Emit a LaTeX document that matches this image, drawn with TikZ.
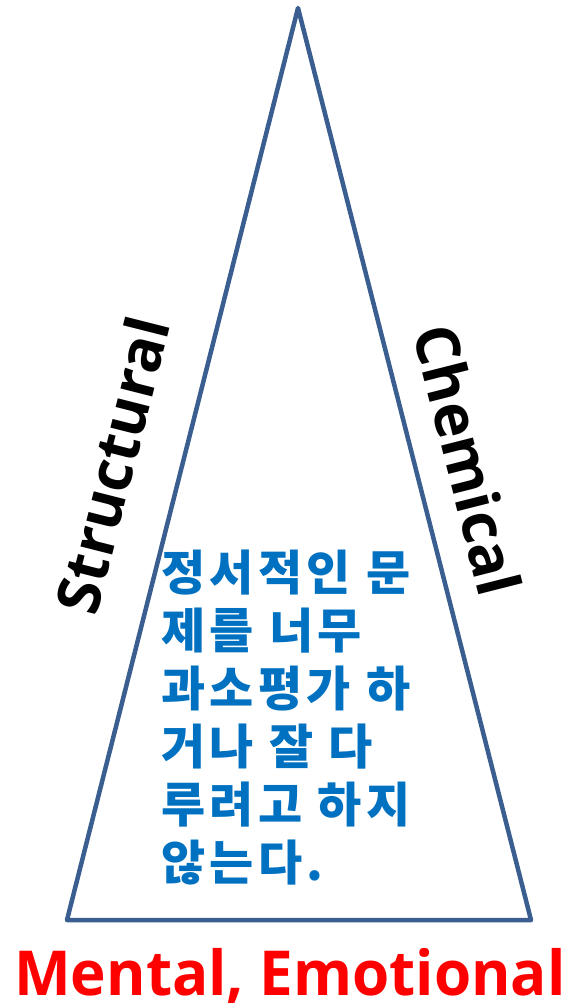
\documentclass[tikz,border=0pt]{standalone}
\usepackage{fontspec}
\usepackage{xcolor}
\setmainfont{Open Sans}
\newfontfamily\kor{Noto Sans CJK KR}[LetterSpace=9]
\definecolor{sideblue}{HTML}{3A5E8F}
\definecolor{noteblue}{HTML}{0070C0}
\definecolor{mentalred}{HTML}{FF0000}

\begin{document}
\begin{tikzpicture}[x=1pt,y=-1pt]
            \tikzset{side/.style = {draw=sideblue, line width=4.5pt, line join=round}}
            \tikzset{sidelabel/.style = {inner sep=0pt, font=\bfseries\fontsize{60}{60}\selectfont}}
            \tikzset{note/.style = {inner sep=0pt, anchor=north west, align=left, text=noteblue, font=\kor\bfseries\fontsize{48}{58}\selectfont}}
            \tikzset{bottomlabel/.style = {inner sep=0pt, anchor=base, text=mentalred, xscale=0.97, transform shape, font=\bfseries\fontsize{62}{62}\selectfont}}
            \useasboundingbox (0,0) rectangle (571,1003);
            
            % vertices
            \coordinate (apex) at (298,8);
            \coordinate (left) at (67,920);
            \coordinate (right) at (531,920);
            
            % edges
            \draw[side] (apex) -- (left) -- (right) -- cycle;
            
            % labels
            \node[sidelabel, rotate=75.8] (structural) at (112,465) {Structural};
            \node[sidelabel, rotate=-75.8] (chemical) at (468,460) {Chemical};
            \node[note] (emotion) at (161,550) {정서적인 문\\제를 너무\\과소평가 하\\거나 잘 다\\루려고 하지\\않는다.};
            \node[bottomlabel] (mental) at (290,995) {Mental, Emotional};
            
          \end{tikzpicture}
\end{document}
